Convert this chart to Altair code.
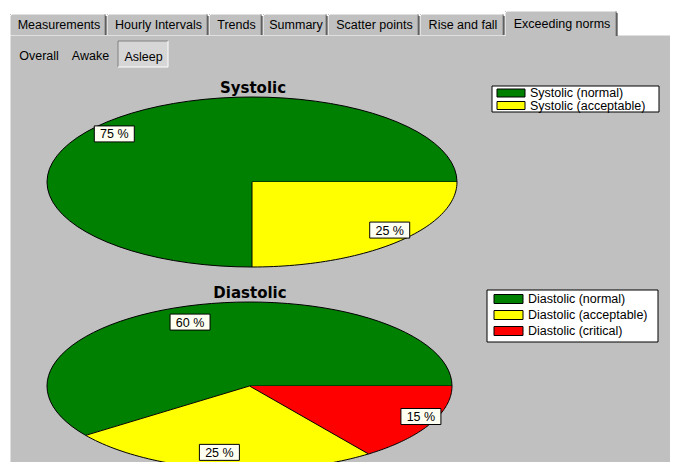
import altair as alt
import pandas as pd

# ---------------- data ----------------
TAB_LABELS = ["Measurements", "Hourly Intervals", "Trends", "Summary",
              "Scatter points", "Rise and fall", "Exceeding norms"]
ACTIVE_TAB = "Exceeding norms"
VIEW_LABELS = ["Overall", "Awake", "Asleep"]
ACTIVE_VIEW = "Asleep"

SYS_TITLE = "Systolic"
SYS_CATEGORIES = ["Systolic (normal)", "Systolic (acceptable)"]
SYS_VALUES = [75, 25]

DIA_TITLE = "Diastolic"
DIA_CATEGORIES = ["Diastolic (normal)", "Diastolic (acceptable)", "Diastolic (critical)"]
DIA_VALUES = [60, 25, 15]

# ---------------- style / layout ----------------
GREEN, YELLOW, RED = "#008000", "#ffff00", "#ff0000"
SYS_COLORS = [GREEN, YELLOW]
DIA_COLORS = [GREEN, YELLOW, RED]
PANEL = "#c0c0c0"
FONT = "Liberation Sans"
TITLE_FONT = "DejaVu Sans"

W, H = 662, 454
PX = alt.Scale(domain=[8, 8 + W], range=[0, W])
PY = alt.Scale(domain=[8, 8 + H], range=[0, H])

TAB_LEFT = [10, 107, 209, 263, 328, 420, 505]
TAB_RIGHT = [106, 208, 262, 327, 419, 504, 617]
VIEW_X = [39, 90.5, 143.5]


def qx(f):
    return alt.X(f"{f}:Q", scale=PX, axis=None)


def qy(f):
    return alt.Y(f"{f}:Q", scale=PY, axis=None)


def rect_layer(rows, fill, stroke=None):
    df = pd.DataFrame(rows, columns=["x", "x2", "y", "y2"])
    kw = dict(fill=fill)
    if stroke:
        kw.update(stroke=stroke, strokeWidth=1)
    return alt.Chart(df).mark_rect(**kw).encode(
        x=qx("x"), x2=alt.X2("x2"), y=qy("y"), y2=alt.Y2("y2"))


def rule_layer(rows, color):
    df = pd.DataFrame(rows, columns=["x", "x2", "y", "y2"])
    return alt.Chart(df).mark_rule(color=color, strokeWidth=1).encode(
        x=qx("x"), x2=alt.X2("x2"), y=qy("y"), y2=alt.Y2("y2"))


def text_layer(df, size=12.5, font=FONT, weight="normal", align="center",
               baseline="middle", color="black"):
    return alt.Chart(df).mark_text(font=font, fontSize=size, fontWeight=weight,
                                   align=align, baseline=baseline, color=color).encode(
        x=qx("x"), y=qy("y"), text="label:N")


# ---------------- window chrome ----------------
layers = []
layers.append(rect_layer([(10, 8 + W, 35, 8 + H)], PANEL))
layers.append(rule_layer([(10, 8 + W, 35, 35), (10, 10, 35, 8 + H)], "white"))

tab_rows, white_rows, dark_rows, mid_rows, tab_text = [], [], [], [], []
for lab, x0, x1 in zip(TAB_LABELS, TAB_LEFT, TAB_RIGHT):
    active = lab == ACTIVE_TAB
    y0, y1 = (11, 36) if active else (14, 35)
    tab_rows.append((x0, x1, y0, y1))
    white_rows += [(x0 + 2, x1 - 2, y0, y0), (x0, x0, y0 + 2, y1), (x0, x0 + 2, y0 + 2, y0)]
    dark_rows.append((x1, x1, y0 + 2, y1))
    mid_rows.append((x1 - 1, x1 - 1, y0 + 1, y1))
    tab_text.append({"label": lab, "x": (x0 + x1) / 2 + 1, "y": (y0 + y1) / 2 + 0.5})
layers.append(rect_layer(tab_rows, PANEL))
layers.append(rule_layer(white_rows, "white"))
layers.append(rule_layer(mid_rows, "#808080"))
layers.append(rule_layer(dark_rows, "#202020"))
layers.append(text_layer(pd.DataFrame(tab_text)))

# view selector (Overall / Awake / Asleep)
ai = VIEW_LABELS.index(ACTIVE_VIEW)
bx0, bx1 = VIEW_X[ai] - 25.5, VIEW_X[ai] + 24.5
layers.append(rect_layer([(bx0, bx1, 41, 67)], "#d6d6d6"))
layers.append(rule_layer([(bx0, bx1, 41, 41), (bx0, bx0, 41, 67)], "#808080"))
layers.append(rule_layer([(bx0, bx1, 67, 67), (bx1, bx1, 41, 67)], "white"))
layers.append(text_layer(pd.DataFrame({"label": VIEW_LABELS, "x": VIEW_X, "y": [56, 56, 57]})))


# legends
def legend_layers(cats, colors, box, sw_x, row_y0, step, sw_h, text_x):
    out = [rect_layer([box], "white", stroke="black")]
    df = pd.DataFrame({"cat": cats, "color": colors, "row": list(range(len(cats)))})
    base = alt.Chart(df).transform_calculate(
        yc=f"{row_y0} + datum.row * {step}",
        ya=f"{row_y0} + datum.row * {step} - {sw_h / 2}",
        yb=f"{row_y0} + datum.row * {step} + {sw_h / 2}",
        xa=f"{sw_x[0]}", xb=f"{sw_x[1]}", xt=f"{text_x}")
    out.append(base.mark_rect(stroke="black", strokeWidth=1).encode(
        x=qx("xa"), x2=alt.X2("xb"), y=qy("ya"), y2=alt.Y2("yb"),
        fill=alt.Fill("color:N", scale=None)))
    out.append(base.mark_text(font=FONT, fontSize=12.5, align="left", baseline="middle",
                              color="black").encode(x=qx("xt"), y=qy("yc"), text="cat:N"))
    return out


layers += legend_layers(SYS_CATEGORIES, SYS_COLORS, (492, 659, 86, 112), (497, 525), 93, 12.5, 8, 530)
layers += legend_layers(DIA_CATEGORIES, DIA_COLORS, (487, 658, 290, 342), (494, 523), 299, 16, 9, 528)

# titles
layers.append(text_layer(pd.DataFrame({"label": [SYS_TITLE, DIA_TITLE], "x": [253, 250], "y": [93, 298]}),
                         size=15, font=TITLE_FONT, weight="bold", baseline="alphabetic"))

chrome = alt.layer(*layers)


# ---------------- elliptical pies ----------------
def pie(cats, values, colors, xr, yr):
    df = pd.DataFrame({"cat": cats, "value": values, "ord": list(range(len(cats)))})
    xs = alt.Scale(domain=[-1, 1], range=xr)
    ys = alt.Scale(domain=[-1, 1], range=yr)
    cs = alt.Scale(domain=cats, range=colors)
    base = (alt.Chart(df)
            .transform_window(cum="sum(value)", sort=[alt.SortField("ord")])
            .transform_joinaggregate(total="sum(value)")
            .transform_calculate(a0="2 * PI * (datum.cum - datum.value) / datum.total")
            .transform_calculate(a1="2 * PI * datum.cum / datum.total"))
    poly = (base
            .transform_calculate(idx="sequence(0, 62)")
            .transform_flatten(["idx"])
            .transform_calculate(ang="datum.idx == 0 ? 0 : datum.a0 + (datum.a1 - datum.a0) * (datum.idx - 1) / 60")
            .transform_calculate(px="datum.idx == 0 ? 0 : cos(datum.ang)")
            .transform_calculate(py="datum.idx == 0 ? 0 : sin(datum.ang)")
            .mark_line(filled=True, stroke="black", strokeWidth=1, strokeJoin="round")
            .encode(x=alt.X("px:Q", scale=xs, axis=None),
                    y=alt.Y("py:Q", scale=ys, axis=None),
                    color=alt.Color("cat:N", scale=cs, legend=None),
                    order=alt.Order("idx:Q")))
    lab = (base
           .transform_calculate(mid="(datum.a0 + datum.a1) / 2")
           .transform_calculate(lx="0.95 * cos(datum.mid)")
           .transform_calculate(ly="0.8 * sin(datum.mid)")
           .transform_calculate(lab="datum.value + ' %'"))
    box = lab.mark_rect(fill="#fffff2", stroke="black", strokeWidth=1,
                        xOffset=-20, x2Offset=20, yOffset=-8, y2Offset=8).encode(
        x=alt.X("lx:Q", scale=xs, axis=None), x2=alt.X2("lx"),
        y=alt.Y("ly:Q", scale=ys, axis=None), y2=alt.Y2("ly"))
    txt = lab.mark_text(font=FONT, fontSize=12.5, color="black", baseline="middle", dy=0.5).encode(
        x=alt.X("lx:Q", scale=xs, axis=None), y=alt.Y("ly:Q", scale=ys, axis=None), text="lab:N")
    return alt.layer(poly, box, txt)


sys_pie = pie(SYS_CATEGORIES, SYS_VALUES, SYS_COLORS, [39, 449], [259, 89])
dia_pie = pie(DIA_CATEGORIES, DIA_VALUES, DIA_COLORS, [39, 444], [462, 294])

chart = (alt.layer(chrome, sys_pie, dia_pie)
         .resolve_scale(x="independent", y="independent", color="independent", fill="independent")
         .properties(width=W, height=H, padding=0,
                     autosize=alt.AutoSizeParams(type="none"), background="white")
         .configure_view(stroke=None))

chart.save("out.html", embed_options={"renderer": "svg", "actions": False})
